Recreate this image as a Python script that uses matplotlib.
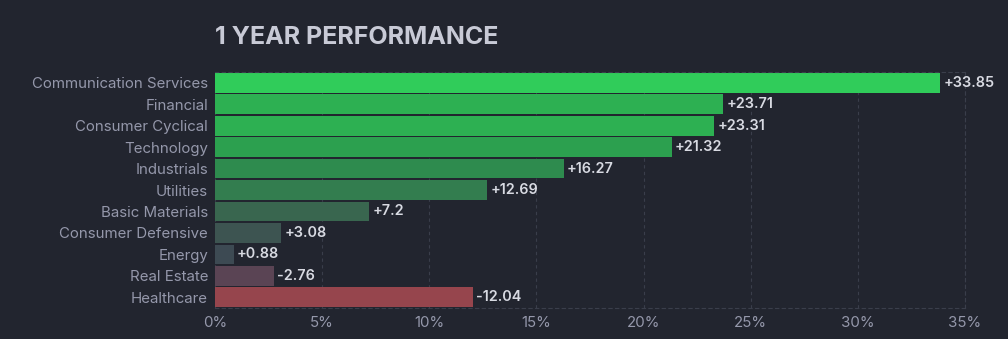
import matplotlib.pyplot as plt
from matplotlib.ticker import FuncFormatter

plt.rcParams['font.family'] = ['Inter', 'DejaVu Sans']

# Sector performance over one year (%)
sectors = ["Communication Services", "Financial", "Consumer Cyclical", "Technology",
           "Industrials", "Utilities", "Basic Materials", "Consumer Defensive",
           "Energy", "Real Estate", "Healthcare"]
perf = [33.85, 23.71, 23.31, 21.32, 16.27, 12.69, 7.2, 3.08, 0.88, -2.76, -12.04]
bar_colors = ["#30cc5a", "#2db052", "#2db052", "#2ca04f", "#2e8b4e", "#337d4f",
              "#39664f", "#3d5451", "#3d4a53", "#5a4454", "#96454d"]
xticks = [0, 5, 10, 15, 20, 25, 30, 35]

bg = "#22252f"
grid_c = "#3a3e4b"

fig = plt.figure(figsize=(10.08, 3.39), dpi=100, facecolor=bg)
ax = fig.add_axes([0.2133, 0.0914, 0.744, 0.696], facecolor=bg)

ypos = list(range(len(sectors)))
ax.barh(ypos, [abs(v) for v in perf], height=0.92, color=bar_colors, zorder=2)

for y, v in zip(ypos, perf):
    label = f"+{v:g}" if v >= 0 else f"{v:g}"
    ax.text(abs(v) + 0.15, y, label, va="center", ha="left",
            color="#d8dae2", fontsize=10.4, fontweight="semibold", zorder=3)

ax.set_xlim(0, 35)
ax.set_ylim(len(sectors) - 0.5, -0.5)
ax.set_xticks(xticks)
ax.xaxis.set_major_formatter(FuncFormatter(lambda x, _: f"{x:g}%"))
ax.set_yticks(ypos)
ax.set_yticklabels(sectors)
ax.tick_params(axis="both", length=0, colors="#9598ab", labelsize=10.8)
ax.tick_params(axis="y", pad=5)
ax.tick_params(axis="x", pad=6)

ax.grid(axis="x", color=grid_c, linestyle=(0, (3, 3)), linewidth=0.8, zorder=0)
for side in ["top", "right", "bottom"]:
    ax.spines[side].set_color(grid_c)
    ax.spines[side].set_linestyle((0, (3, 3)))
    ax.spines[side].set_linewidth(0.8)
ax.spines["left"].set_visible(False)

fig.text(0.2133, 0.888, "1 YEAR PERFORMANCE", color="#c8cad6", fontsize=18,
         fontweight="bold", va="center", ha="left")

fig.savefig("out.png", facecolor=bg)
